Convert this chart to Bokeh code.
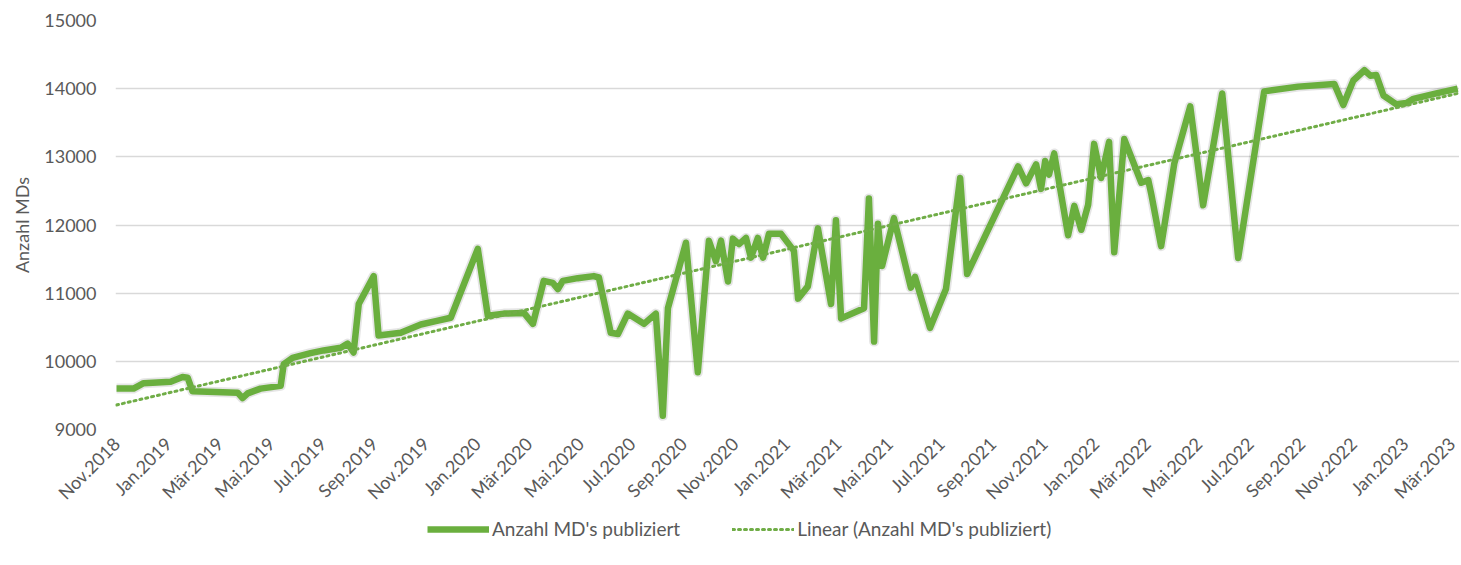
from math import pi
from bokeh.plotting import figure
from bokeh.layouts import column
from bokeh.models import Range1d, FixedTicker, Legend, LegendItem
from bokeh.embed import file_html
from bokeh.resources import INLINE

# Monate seit Nov. 2018 (Bruchteile) und Anzahl publizierter MDs
monat = [0.0, 0.66, 1.05, 2.10, 2.56, 2.76, 2.95, 4.70, 4.89, 5.09,
         5.59, 6.37, 6.49, 6.83, 7.53, 8.04, 8.70, 8.97, 9.20, 9.40,
         9.98, 10.17, 11.03, 11.81, 12.39, 12.97, 14.02, 14.41, 15.03, 15.81,
         16.16, 16.58, 16.93, 17.13, 17.32, 17.90, 18.52, 18.72, 19.18, 19.46,
         19.84, 20.47, 20.93, 21.20, 21.40, 22.10, 22.56, 22.99, 23.26, 23.46,
         23.73, 23.92, 24.16, 24.43, 24.62, 24.89, 25.09, 25.32, 25.79, 26.29,
         26.45, 26.83, 27.22, 27.73, 27.92, 28.12, 29.01, 29.20, 29.40, 29.55,
         29.71, 30.17, 30.83, 30.99, 31.57, 32.19, 32.74, 33.01, 34.99,
         35.30, 35.69, 35.88, 36.04, 36.19, 36.39, 36.93, 37.17, 37.44, 37.71,
         37.94, 38.21, 38.52, 38.72, 39.11, 39.77, 40.04, 40.16, 40.54, 41.05,
         41.67, 42.17, 42.91, 43.53, 44.54, 45.86, 47.26, 47.61, 48.00, 48.43,
         48.66, 48.89, 49.17, 49.67, 50.06, 50.33, 51.22, 52.05]

anzahl = [9600, 9600, 9680, 9700, 9770, 9760, 9560, 9540, 9460, 9530,
          9600, 9640, 9960, 10050, 10120, 10160, 10200, 10260, 10130, 10840,
          11250, 10380, 10420, 10540, 10590, 10640, 11650, 10670, 10700, 10710,
          10550, 11180, 11150, 11060, 11180, 11220, 11250, 11230, 10420, 10400,
          10700, 10550, 10700, 9200, 10780, 11740, 9840, 11770, 11470, 11770,
          11170, 11800, 11720, 11810, 11520, 11810, 11520, 11870, 11870, 11620,
          10920, 11100, 11950, 10840, 12070, 10630, 10780, 12390, 10290, 12020,
          11400, 12100, 11080, 11240, 10490, 11060, 12690, 11280, 12860,
          12610, 12890, 12530, 12940, 12740, 13050, 11850, 12280, 11930, 12300,
          13190, 12690, 13220, 11600, 13260, 12620, 12660, 12450, 11690, 12900,
          13740, 12290, 13930, 11515, 13960, 14030, 14070, 13760, 14120, 14270,
          14190, 14200, 13900, 13770, 13790, 13850, 13930, 14000]

# Lineare Trendlinie (Endpunkte aus dem Bild gelesen)
trend_monat = [0.0, 52.05]
trend_anzahl = [9360, 13930]

tick_pos = list(range(0, 53, 2))
tick_labels = ["Nov.2018", "Jan.2019", "Mär.2019", "Mai.2019", "Jul.2019", "Sep.2019",
               "Nov.2019", "Jan.2020", "Mär.2020", "Mai.2020", "Jul.2020", "Sep.2020",
               "Nov.2020", "Jan.2021", "Mär.2021", "Mai.2021", "Jul.2021", "Sep.2021",
               "Nov.2021", "Jan.2022", "Mär.2022", "Mai.2022", "Jul.2022", "Sep.2022",
               "Nov.2022", "Jan.2023", "Mär.2023"]
y_ticks = [9000, 10000, 11000, 12000, 13000, 14000, 15000]

series_label = "Anzahl MD's publiziert"
trend_label = "Linear (Anzahl MD's publiziert)"

FONT = "Lato"
TXT = "#595959"
GREEN = "#6AAF3E"
TREND_GREEN = "#70AD47"

p = figure(frame_width=1344, frame_height=409, output_backend="svg", toolbar_location=None,
           x_range=Range1d(-0.04, 52.12), y_range=Range1d(9000, 15000),
           min_border_left=115, min_border_right=0, min_border_top=20,
           min_border_bottom=0)
p.outline_line_color = None
p.background_fill_color = "white"

p.xgrid.grid_line_color = None
p.ygrid.grid_line_color = "#D9D9D9"
p.ygrid.grid_line_width = 1.5
p.ygrid.ticker = FixedTicker(ticks=y_ticks)

# Y axis
p.yaxis.ticker = FixedTicker(ticks=y_ticks)
p.yaxis.axis_line_color = None
p.yaxis.major_tick_line_color = None
p.yaxis.minor_tick_line_color = None
p.yaxis.major_label_standoff = 13
p.yaxis.major_label_text_font = FONT
p.yaxis.major_label_text_font_size = "18px"
p.yaxis.major_label_text_color = TXT
p.yaxis.axis_label = "Anzahl MDs"
p.yaxis.axis_label_text_font = FONT
p.yaxis.axis_label_text_font_style = "normal"
p.yaxis.axis_label_text_font_size = "18px"
p.yaxis.axis_label_text_color = TXT
p.yaxis.axis_label_standoff = 8

# X axis
p.xaxis.ticker = FixedTicker(ticks=tick_pos)
p.xaxis.major_label_overrides = {pos: lab for pos, lab in zip(tick_pos, tick_labels)}
p.xaxis.major_label_orientation = pi / 4
p.xaxis.axis_line_color = None
p.xaxis.major_tick_line_color = None
p.xaxis.minor_tick_line_color = None
p.xaxis.major_label_standoff = 5
p.xaxis.major_label_text_font = FONT
p.xaxis.major_label_text_font_size = "18px"
p.xaxis.major_label_text_color = TXT

# Shadow + main line + trend
p.line(monat, anzahl, line_color="#000000", line_alpha=0.10, line_width=10,
       line_join="round")
p.line(monat, anzahl, line_color=GREEN, line_width=6.5, line_join="round")
p.line(trend_monat, trend_anzahl, line_color=TREND_GREEN, line_width=3,
       line_dash="2 4", line_cap="round")

# Legend strip below the chart (same series, drawn outside this strip's visible range)
lg = figure(frame_width=1344, frame_height=50, output_backend="svg", toolbar_location=None,
            x_range=Range1d(-0.04, 52.12), y_range=Range1d(0, 1),
            min_border_left=115, min_border_right=0, min_border_top=0,
            min_border_bottom=0)
lg.axis.visible = False
lg.grid.visible = False
lg.outline_line_color = None
l_main = lg.line(monat, anzahl, line_color=GREEN, line_width=6.5)
l_trend = lg.line(trend_monat, trend_anzahl, line_color=TREND_GREEN, line_width=3,
                  line_dash="2 4", line_cap="round")
legend = Legend(items=[LegendItem(label=series_label, renderers=[l_main]),
                       LegendItem(label=trend_label, renderers=[l_trend])],
                orientation="horizontal", location=(312, 24),
                border_line_color=None, background_fill_alpha=0,
                glyph_width=62, label_standoff=3, spacing=52,
                label_text_font=FONT, label_text_font_size="19px",
                label_text_color=TXT, padding=4, margin=0)
lg.add_layout(legend, "center")

open("out.html", "w").write(file_html(column(p, lg, spacing=0), INLINE))
